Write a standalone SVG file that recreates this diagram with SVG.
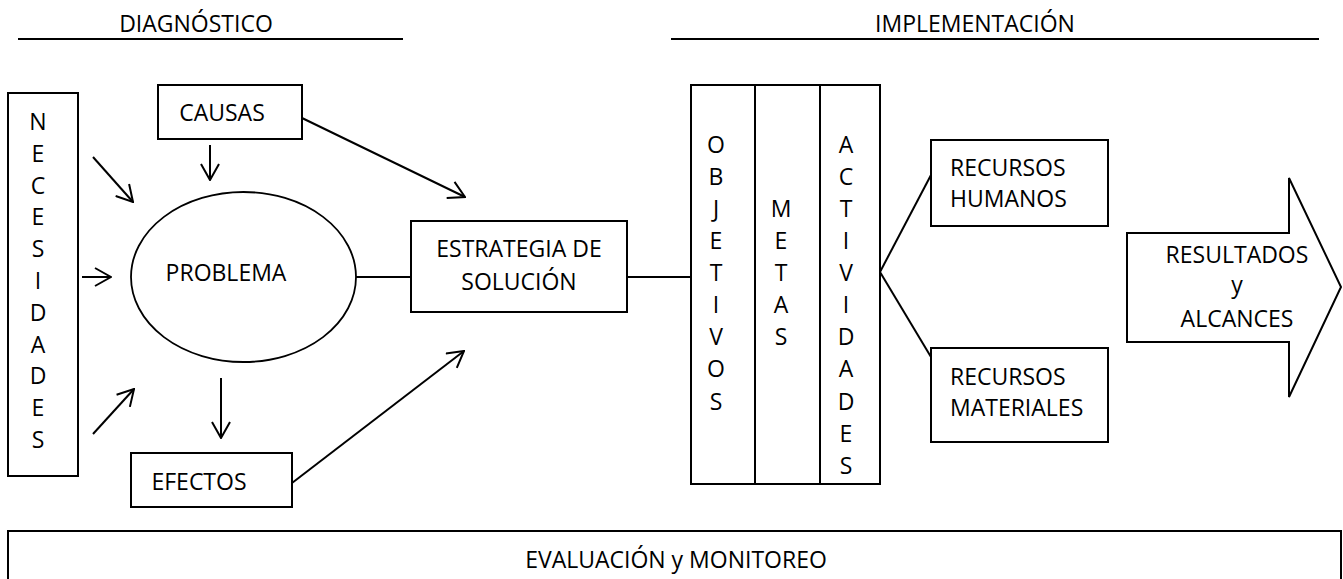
<svg xmlns="http://www.w3.org/2000/svg" width="1343" height="579" viewBox="0 0 1343 579">
<style>
text{font-family:"Open Sans","Noto Sans","DejaVu Sans",sans-serif;font-size:23px;fill:#000}
.c{text-anchor:middle}
.box{fill:#fff;stroke:#000;stroke-width:2}
.ln{stroke:#000;stroke-width:2;fill:none}
.arr{stroke:#000;stroke-width:2;fill:none;marker-end:url(#ah)}
</style>
<defs>
<marker id="ah" viewBox="0 0 18 20" refX="17" refY="10" markerWidth="18" markerHeight="20" orient="auto" markerUnits="userSpaceOnUse">
<path d="M1,1 L17,10 L1,19" fill="none" stroke="#000" stroke-width="2"/>
</marker>
</defs>
<rect width="1343" height="579" fill="#fff"/>

<g id="hdr-diagnostico">
<text class="c" x="196" y="32">DIAGNÓSTICO</text>
<line class="ln" x1="18" y1="39" x2="403" y2="39"/>
</g>
<g id="hdr-implementacion">
<text class="c" x="975" y="32">IMPLEMENTACIÓN</text>
<line class="ln" x1="671" y1="39" x2="1319" y2="39"/>
</g>

<g id="necesidades">
<rect class="box" x="8" y="93" width="70" height="383"/>
<text class="c" x="38" y="130">N</text>
<text class="c" x="38" y="162">E</text>
<text class="c" x="38" y="194">C</text>
<text class="c" x="38" y="225">E</text>
<text class="c" x="38" y="257">S</text>
<text class="c" x="38" y="289">I</text>
<text class="c" x="38" y="321">D</text>
<text class="c" x="38" y="353">A</text>
<text class="c" x="38" y="384">D</text>
<text class="c" x="38" y="416">E</text>
<text class="c" x="38" y="448">S</text>
</g>

<g id="causas">
<rect class="box" x="158" y="85" width="144" height="54"/>
<text class="c" x="222" y="121">CAUSAS</text>
</g>

<g id="problema">
<ellipse cx="243.5" cy="277" rx="112.5" ry="85" fill="#fff" stroke="#000" stroke-width="1.8"/>
<text class="c" x="226" y="281">PROBLEMA</text>
</g>

<g id="efectos">
<rect class="box" x="131" y="453" width="161" height="54"/>
<text class="c" x="199" y="490">EFECTOS</text>
</g>

<g id="estrategia">
<rect class="box" x="411" y="221" width="216" height="91"/>
<text class="c" x="519" y="257">ESTRATEGIA DE</text>
<text class="c" x="519" y="290">SOLUCIÓN</text>
</g>

<g id="objetivos-metas-actividades">
<rect class="box" x="691" y="85" width="189" height="399"/>
<line class="ln" x1="755" y1="85" x2="755" y2="484"/>
<line class="ln" x1="820" y1="85" x2="820" y2="484"/>
<text class="c" x="716" y="153">O</text>
<text class="c" x="716" y="185">B</text>
<text class="c" x="716" y="217">J</text>
<text class="c" x="716" y="249">E</text>
<text class="c" x="716" y="281">T</text>
<text class="c" x="716" y="313">I</text>
<text class="c" x="716" y="345">V</text>
<text class="c" x="716" y="377">O</text>
<text class="c" x="716" y="410">S</text>
<text class="c" x="781" y="217">M</text>
<text class="c" x="781" y="249">E</text>
<text class="c" x="781" y="281">T</text>
<text class="c" x="781" y="313">A</text>
<text class="c" x="781" y="345">S</text>
<text class="c" x="846" y="153">A</text>
<text class="c" x="846" y="185">C</text>
<text class="c" x="846" y="217">T</text>
<text class="c" x="846" y="249">I</text>
<text class="c" x="846" y="281">V</text>
<text class="c" x="846" y="313">I</text>
<text class="c" x="846" y="345">D</text>
<text class="c" x="846" y="377">A</text>
<text class="c" x="846" y="410">D</text>
<text class="c" x="846" y="442">E</text>
<text class="c" x="846" y="474">S</text>
</g>

<g id="recursos-humanos">
<rect class="box" x="931" y="140" width="177" height="86"/>
<text x="950" y="176">RECURSOS</text>
<text x="950" y="207">HUMANOS</text>
</g>

<g id="recursos-materiales">
<rect class="box" x="931" y="348" width="177" height="94"/>
<text x="950" y="385">RECURSOS</text>
<text x="950" y="416">MATERIALES</text>
</g>

<g id="resultados">
<path class="box" d="M1127,233 L1289,233 L1289,178 L1341,287 L1289,397 L1289,342 L1127,342 Z" stroke-width="1.8"/>
<text class="c" x="1237" y="263">RESULTADOS</text>
<text class="c" x="1237" y="293">y</text>
<text class="c" x="1237" y="327">ALCANCES</text>
</g>

<g id="evaluacion">
<rect class="box" x="8" y="531" width="1333" height="52"/>
<text class="c" x="676" y="568">EVALUACIÓN y MONITOREO</text>
</g>

<g id="connectors">
<line class="arr" x1="93" y1="157" x2="133" y2="202"/>
<line class="arr" x1="82" y1="277" x2="111" y2="277"/>
<line class="arr" x1="93" y1="434" x2="134" y2="389"/>
<line class="arr" x1="210" y1="145" x2="210" y2="180"/>
<line class="arr" x1="221" y1="378" x2="221" y2="438"/>
<line class="arr" x1="302" y1="118" x2="465" y2="197"/>
<line class="arr" x1="292" y1="483" x2="464" y2="351"/>
<line class="ln" x1="356" y1="277" x2="411" y2="277"/>
<line class="ln" x1="627" y1="277" x2="691" y2="277"/>
<line class="ln" x1="931" y1="175" x2="880" y2="272"/>
<line class="ln" x1="880" y1="272" x2="931" y2="357"/>
</g>
</svg>
